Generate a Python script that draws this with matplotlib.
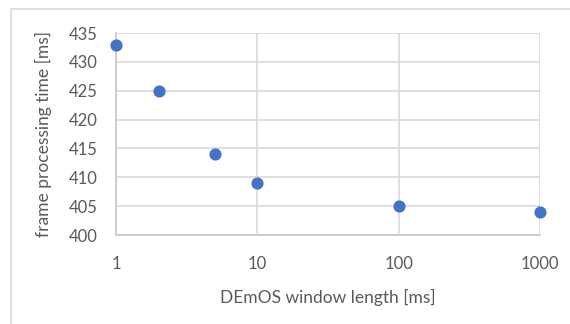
import matplotlib.pyplot as plt
from matplotlib.patches import Rectangle

# window length vs frame processing time
window_ms = [1, 2, 5, 10, 100, 1000]
proc_ms = [433, 425, 414, 409, 405, 404]
x_ticks = [1, 10, 100, 1000]
y_ticks = [400, 405, 410, 415, 420, 425, 430, 435]

plt.rcParams['font.family'] = ['Lato', 'DejaVu Sans']
txt = '#595959'
grid = '#d9d9d9'

fig = plt.figure(figsize=(5.7, 3.24), dpi=100)
# chart area border (partly cropped like the reference)
fig.patches.append(Rectangle((11 / 570, -0.05), 1.0, 1 - 9 / 324 + 0.05,
                             transform=fig.transFigure, fill=False,
                             edgecolor=grid, linewidth=1.2))

ax = fig.add_axes([116 / 570, 1 - 235 / 324, (540 - 116) / 570, (235 - 33) / 324])
ax.scatter(window_ms, proc_ms, s=60, color='#4472C4', zorder=3, clip_on=False)

ax.set_xscale('log')
ax.set_xlim(1, 1000)
ax.set_ylim(400, 435)
ax.set_xticks(x_ticks)
ax.set_xticklabels([str(t) for t in x_ticks])
ax.minorticks_off()
ax.set_yticks(y_ticks)

ax.grid(True, color=grid, linewidth=1.2)
ax.set_axisbelow(True)
for s in ['top', 'right']:
    ax.spines[s].set_visible(False)
for s in ['left', 'bottom']:
    ax.spines[s].set_color('#c8c8c8')
    ax.spines[s].set_linewidth(1.2)

ax.tick_params(length=0, colors=txt, labelsize=12)
ax.tick_params(axis='x', pad=15)
ax.tick_params(axis='y', pad=13)

ax.set_xlabel('DEmOS window length [ms]', color=txt, fontsize=12.5, labelpad=12)
ax.set_ylabel('frame processing time [ms]', color=txt, fontsize=12.5, labelpad=12)

fig.savefig('out.png', dpi=100)
